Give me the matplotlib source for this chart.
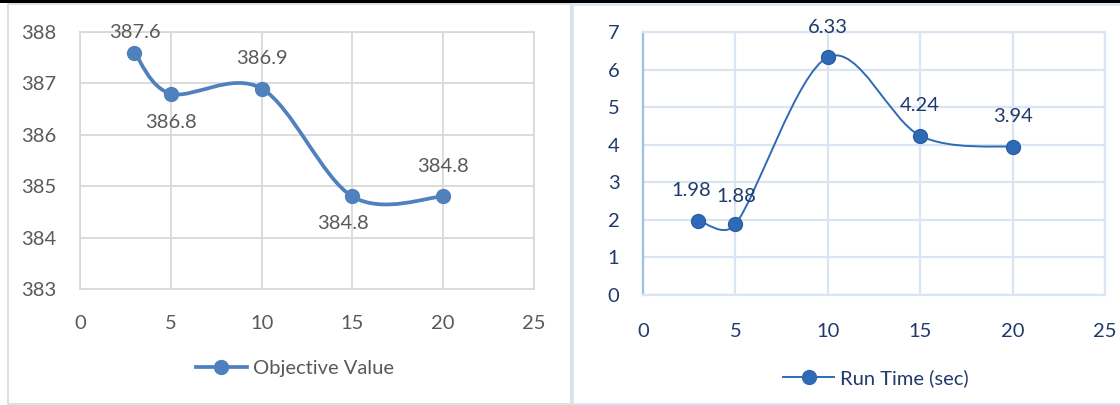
import matplotlib
matplotlib.use("Agg")
import matplotlib.pyplot as plt
from matplotlib.path import Path
from matplotlib.patches import PathPatch, Rectangle
from matplotlib.lines import Line2D

# ---------------- data ----------------
k_values = [3, 5, 10, 15, 20]
objective_values = [387.6, 386.8, 386.9, 384.8, 384.8]
run_times = [1.98, 1.88, 6.33, 4.24, 3.94]
x_ticks = [0, 5, 10, 15, 20, 25]
obj_y_ticks = [383, 384, 385, 386, 387, 388]
rt_y_ticks = [0, 1, 2, 3, 4, 5, 6, 7]
obj_label = "Objective Value"
rt_label = "Run Time (sec)"

# label offsets (pixels) for the data labels
obj_label_offsets = [(0, 20), (0, -29), (0, 30), (-9, -27), (0, 30)]
rt_label_offsets = [(-7, 30), (1, 28), (0, 30), (0, 30), (0, 30)]

plt.rcParams['font.family'] = ['Lato', 'DejaVu Sans']
FS = 14.5

W, H = 1120, 405
fig = plt.figure(figsize=(W / 100, H / 100), dpi=100)


def smooth_path(xs, ys, ax):
    # Excel-style smoothed line (Catmull-Rom as cubic Bezier), tangents limited
    # relative to neighbouring segment length (computed in display space).
    tr = ax.transData
    pts = [tuple(tr.transform((a, b))) for a, b in zip(xs, ys)]
    n = len(pts)

    def dist(a, b):
        return ((a[0] - b[0]) ** 2 + (a[1] - b[1]) ** 2) ** 0.5

    verts = [pts[0]]
    codes = [Path.MOVETO]
    for i in range(n - 1):
        p0 = pts[i - 1] if i > 0 else pts[i]
        p1 = pts[i]
        p2 = pts[i + 1]
        p3 = pts[i + 2] if i + 2 < n else pts[i + 1]
        seg = dist(p1, p2)
        t1 = ((p2[0] - p0[0]) / 6, (p2[1] - p0[1]) / 6)
        t2 = ((p3[0] - p1[0]) / 6, (p3[1] - p1[1]) / 6)
        l1 = (t1[0] ** 2 + t1[1] ** 2) ** 0.5
        l2 = (t2[0] ** 2 + t2[1] ** 2) ** 0.5
        cap = seg * 0.5
        s1 = min(1.0, cap / l1) if l1 > 0 else 1.0
        s2 = min(1.0, cap / l2) if l2 > 0 else 1.0
        c1 = (p1[0] + t1[0] * s1, p1[1] + t1[1] * s1)
        c2 = (p2[0] - t2[0] * s2, p2[1] - t2[1] * s2)
        verts += [c1, c2, p2]
        codes += [Path.CURVE4] * 3
    inv = tr.inverted()
    return Path(inv.transform(verts), codes)


def ax_rect(x0, x1, ytop, ybot):
    return [x0 / W, (H - ybot) / H, (x1 - x0) / W, (ybot - ytop) / H]


# panel frames
fig.patches.append(Rectangle((0, 1 - 3 / H), 1, 3 / H, transform=fig.transFigure,
                             facecolor='black', edgecolor='none', zorder=5))
fig.patches.append(Rectangle((8 / W, (H - 404) / H), (571 - 8) / W, 400 / H,
                             transform=fig.transFigure, facecolor='none',
                             edgecolor='#D9D9D9', lw=1.2))
fig.patches.append(Rectangle((572 / W, (H - 404) / H), (1125 - 572) / W, 400 / H,
                             transform=fig.transFigure, facecolor='none',
                             edgecolor='#D6E3F3', lw=1.8))

# ---------------- left panel ----------------
gray_txt = '#595959'
blue1 = '#4F81BD'
ax1 = fig.add_axes(ax_rect(80, 534, 32, 289))
ax1.set_xlim(0, 25)
ax1.set_ylim(383, 388)
ax1.set_xticks(x_ticks)
ax1.set_yticks(obj_y_ticks)
ax1.grid(True, color='#D9D9D9', lw=1.3)
ax1.set_axisbelow(True)
for s in ax1.spines.values():
    s.set_color('#D9D9D9')
    s.set_linewidth(1.3)
ax1.tick_params(length=0, labelsize=FS, colors=gray_txt)
ax1.tick_params(axis='x', pad=19)
ax1.tick_params(axis='y', pad=17)
ax1.add_patch(PathPatch(smooth_path(k_values, objective_values, ax1), facecolor='none',
                        edgecolor=blue1, lw=2.7, zorder=3, capstyle='round'))
ax1.plot(k_values, objective_values, 'o', color=blue1, ms=10, zorder=4, clip_on=False)
for xv, yv, off in zip(k_values, objective_values, obj_label_offsets):
    ax1.annotate(f"{yv:.1f}", (xv, yv), xytext=off, textcoords='offset pixels',
                 ha='center', va='center', fontsize=FS, color=gray_txt)
h1 = Line2D([], [], color=blue1, lw=2.7, marker='o', ms=10)
fig.legend([h1], [obj_label], loc='center', bbox_to_anchor=(295 / W, 1 - 368 / H),
           frameon=False, fontsize=FS, labelcolor=gray_txt, handlelength=2.5,
           handletextpad=0.3)

# ---------------- right panel ----------------
navy = '#203A6B'
blue2 = '#2E6AB6'
ax2 = fig.add_axes(ax_rect(643, 1105, 32, 295))
ax2.set_xlim(0, 25)
ax2.set_ylim(0, 7)
ax2.set_xticks(x_ticks)
ax2.set_yticks(rt_y_ticks)
ax2.grid(True, color='#DAE5F4', lw=1.6)
ax2.set_axisbelow(True)
for s in ax2.spines.values():
    s.set_color('#DAE5F4')
    s.set_linewidth(1.6)
ax2.spines['left'].set_color('#9DC0EA')
ax2.tick_params(length=0, labelsize=FS, colors=navy)
ax2.tick_params(axis='x', pad=20)
ax2.tick_params(axis='y', pad=17)
ax2.add_patch(PathPatch(smooth_path(k_values, run_times, ax2), facecolor='none',
                        edgecolor=blue2, lw=1.4, zorder=3))
ax2.plot(k_values, run_times, 'o', color=blue2, ms=10, zorder=4, clip_on=False,
         markeredgecolor='#2A5FA5')
for xv, yv, off in zip(k_values, run_times, rt_label_offsets):
    ax2.annotate(f"{yv:.2f}", (xv, yv), xytext=off, textcoords='offset pixels',
                 ha='center', va='center', fontsize=FS, color=navy)
h2 = Line2D([], [], color=blue2, lw=1.4, marker='o', ms=10)
fig.legend([h2], [rt_label], loc='center', bbox_to_anchor=(876 / W, 1 - 378 / H),
           frameon=False, fontsize=FS, labelcolor=navy, handlelength=2.5,
           handletextpad=0.3)

fig.savefig("out.png", dpi=100)
